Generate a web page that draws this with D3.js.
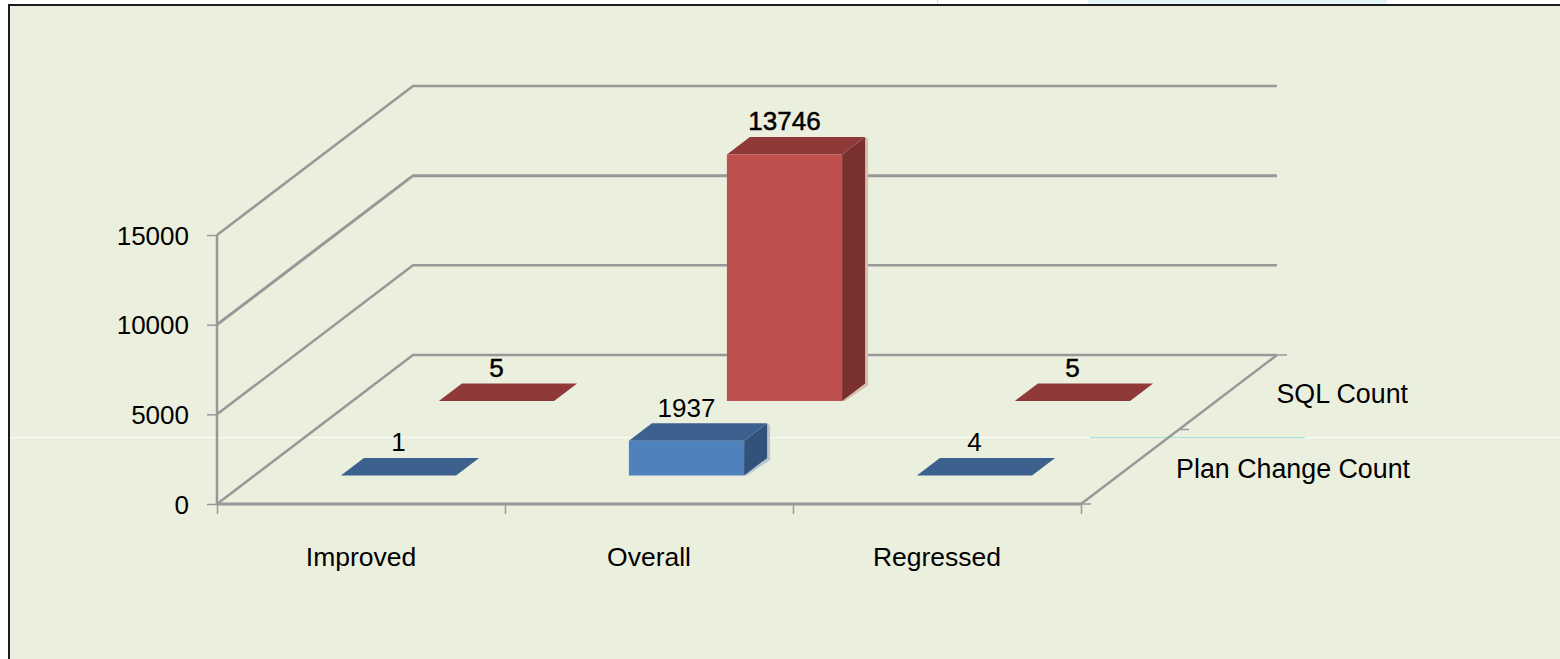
<!DOCTYPE html>
<html>
<head>
<meta charset="utf-8">
<script src="https://cdnjs.cloudflare.com/ajax/libs/d3/7.8.5/d3.min.js"></script>
<style>
html, body { margin: 0; padding: 0; background: #fff; overflow: hidden; }
svg { display: block; }
text { font-family: "Liberation Sans", Arial, sans-serif; fill: #000; }
.domain { display: none; }
</style>
</head>
<body>
<div id="plot"></div>
<script>
"use strict";

var categories = ["Improved", "Overall", "Regressed"];
var seriesNames = ["Plan Change Count", "SQL Count"];
var planChangeCount = [1, 1937, 4];
var sqlCount = [5, 13746, 5];
var yTicks = [0, 5000, 10000, 15000];

var WIDTH = 1560;
var HEIGHT = 659;
var GRID_COLOR = "#989898";

// Floor corners: front left is x0,y0; the depth axis runs up and to the right
var x0 = 217, x1 = 1081, y0 = 504, y1 = 235;
var depthX = 196, depthY = 149;
var BAR_DEPTH = 17.5;

var palette = [
    { front: "#4f81bd", top: "#3c618e", side: "#33527a" },
    { front: "#c0504d", top: "#8f3a38", side: "#7a302e" }
];

var svg = d3.select("#plot").append("svg")
    .attr("width", WIDTH)
    .attr("height", HEIGHT);

var scaleX = d3.scaleBand().domain(categories).range([0, x1 - x0]).paddingInner(0.6).paddingOuter(0.3);
var cellX = d3.scaleBand().domain(categories).range([x0, x1]);
var edgeX = d3.scaleLinear().domain([0, categories.length]).range([x0, x1]);
var scaleY = d3.scaleLinear().domain([0, 15000]).range([y0, y1]);
var scaleZ = d3.scaleBand().domain(seriesNames).range([0, depthY]);

// Map category offset (px), value and depth (px) onto the picture
function project(px, value, depth) {
    return [x0 + px + depth * depthX / depthY, scaleY(value) - depth];
}

function polygon(pts) {
    return d3.line()(pts) + "Z";
}

drawBackground();
drawWalls();
drawAxes();
drawBars();

function drawBackground() {
    // scan leftovers above the panel
    svg.append("rect").attr("x", 1088).attr("y", 0).attr("width", 299).attr("height", 5).attr("fill", "#e2f6f9");
    svg.append("rect").attr("x", 937).attr("y", 0).attr("width", 1).attr("height", 5).attr("fill", "#dddddd");

    svg.append("rect")
        .attr("x", 9).attr("y", 5)
        .attr("width", WIDTH).attr("height", HEIGHT)
        .attr("fill", "#ebefde")
        .attr("stroke", "#1c1c1c")
        .attr("stroke-width", 2);

    svg.append("rect").attr("x", 10).attr("y", 437).attr("width", WIDTH - 10).attr("height", 1).attr("fill", "#fbfdf8");
    svg.append("rect").attr("x", 1090).attr("y", 437).attr("width", 215).attr("height", 1).attr("fill", "#a8e2e4");
}

function drawWalls() {
    var grid = svg.append("g").attr("fill", "none").attr("stroke", GRID_COLOR);

    yTicks.forEach(function (tick) {
        var y = scaleY(tick);
        grid.append("path")
            .attr("d", "M" + x0 + "," + y + "L" + (x0 + depthX) + "," + (y - depthY) + "L" + (x1 + depthX) + "," + (y - depthY))
            .attr("stroke-width", tick == 10000 ? 3 : 2.5);
    });

    // wall edge, floor front and right side
    grid.append("path").attr("d", "M" + x0 + "," + y1 + "L" + x0 + "," + y0).attr("stroke-width", 2.5);
    grid.append("path").attr("d", "M" + x0 + "," + y0 + "L" + x1 + "," + y0).attr("stroke-width", 2.8);
    grid.append("path").attr("d", "M" + x1 + "," + y0 + "L" + (x1 + depthX) + "," + (y0 - depthY)).attr("stroke-width", 2.5);

    // depth ticks
    [0, 0.5, 1].forEach(function (f) {
        var x = x1 + depthX * f, y = y0 - depthY * f;
        grid.append("path").attr("d", "M" + x + "," + y + "L" + (x + 10) + "," + y).attr("stroke-width", 1.5);
    });
}

function drawAxes() {
    var axisY = svg.append("g")
        .attr("transform", "translate(" + x0 + ",0)")
        .call(d3.axisLeft(scaleY).tickValues(yTicks).tickSize(10).tickPadding(18).tickFormat(d3.format("d")));
    axisY.selectAll("line").attr("stroke", GRID_COLOR).attr("stroke-width", 1.5);
    axisY.selectAll("text").attr("font-size", 26).attr("font-family", null).attr("dy", 9);

    var axisX = svg.append("g")
        .attr("transform", "translate(0," + y0 + ")")
        .call(d3.axisBottom(edgeX).ticks(categories.length).tickSize(10).tickFormat(""));
    axisX.selectAll("line").attr("stroke", GRID_COLOR).attr("stroke-width", 1.5);

    var labelsX = svg.append("g")
        .attr("transform", "translate(0," + y0 + ")")
        .call(d3.axisBottom(cellX).tickSize(0).tickPadding(0));
    labelsX.selectAll("line").remove();
    labelsX.selectAll("text")
        .attr("font-size", 26.5)
        .attr("font-family", null)
        .attr("y", 62)
        .attr("dy", 0);

    svg.selectAll("text.seriesLabel").data(seriesNames).enter().append("text")
        .attr("class", "seriesLabel")
        .attr("text-anchor", "end")
        .attr("font-size", 26.8)
        .attr("x", function (d, i) { return i == 0 ? 1410 : 1408; })
        .attr("y", function (d) { return y0 - scaleZ(d) - scaleZ.bandwidth() / 2 + 11; })
        .text(function (d) { return d; });
}

function drawBars() {
    // back row first so the front row sits on top of it
    drawSeries(sqlCount, 1, true);
    drawSeries(planChangeCount, 0, false);
}

function drawSeries(values, s, heavy) {
    var mid = scaleZ(seriesNames[s]) + scaleZ.bandwidth() / 2;
    var zFront = mid - BAR_DEPTH / 2;
    var zBack = mid + BAR_DEPTH / 2;
    var color = palette[s];

    values.forEach(function (value, i) {
        var left = scaleX(categories[i]);
        var right = left + scaleX.bandwidth();
        var g = svg.append("g");

        var fbl = project(left, 0, zFront), fbr = project(right, 0, zFront);
        var ftl = project(left, value, zFront), ftr = project(right, value, zFront);
        var btl = project(left, value, zBack), btr = project(right, value, zBack);
        var bbr = project(right, 0, zBack);

        // soft shadow along the right edge
        g.append("path")
            .attr("d", polygon([btr, [btr[0] + 3, btr[1] + 2], [bbr[0] + 3, bbr[1] + 2], [fbr[0] + 3, fbr[1]], fbr]))
            .attr("fill", s == 1 ? "#d3c2b2" : "#b9c6cf")
            .attr("opacity", value > 100 ? 1 : 0);

        g.append("path").attr("d", polygon([ftr, btr, bbr, fbr])).attr("fill", color.side);
        g.append("path").attr("d", polygon([ftl, btl, btr, ftr])).attr("fill", color.top);
        g.append("path").attr("d", polygon([fbl, ftl, ftr, fbr])).attr("fill", color.front);

        g.append("text")
            .attr("text-anchor", "middle")
            .attr("font-size", 26)
            .attr("x", (ftl[0] + ftr[0]) / 2)
            .attr("y", btl[1] - 6.5)
            .attr("stroke", heavy ? "#000" : "none")
            .attr("stroke-width", heavy ? 0.5 : 0)
            .text(value);
    });
}
</script>
</body>
</html>
